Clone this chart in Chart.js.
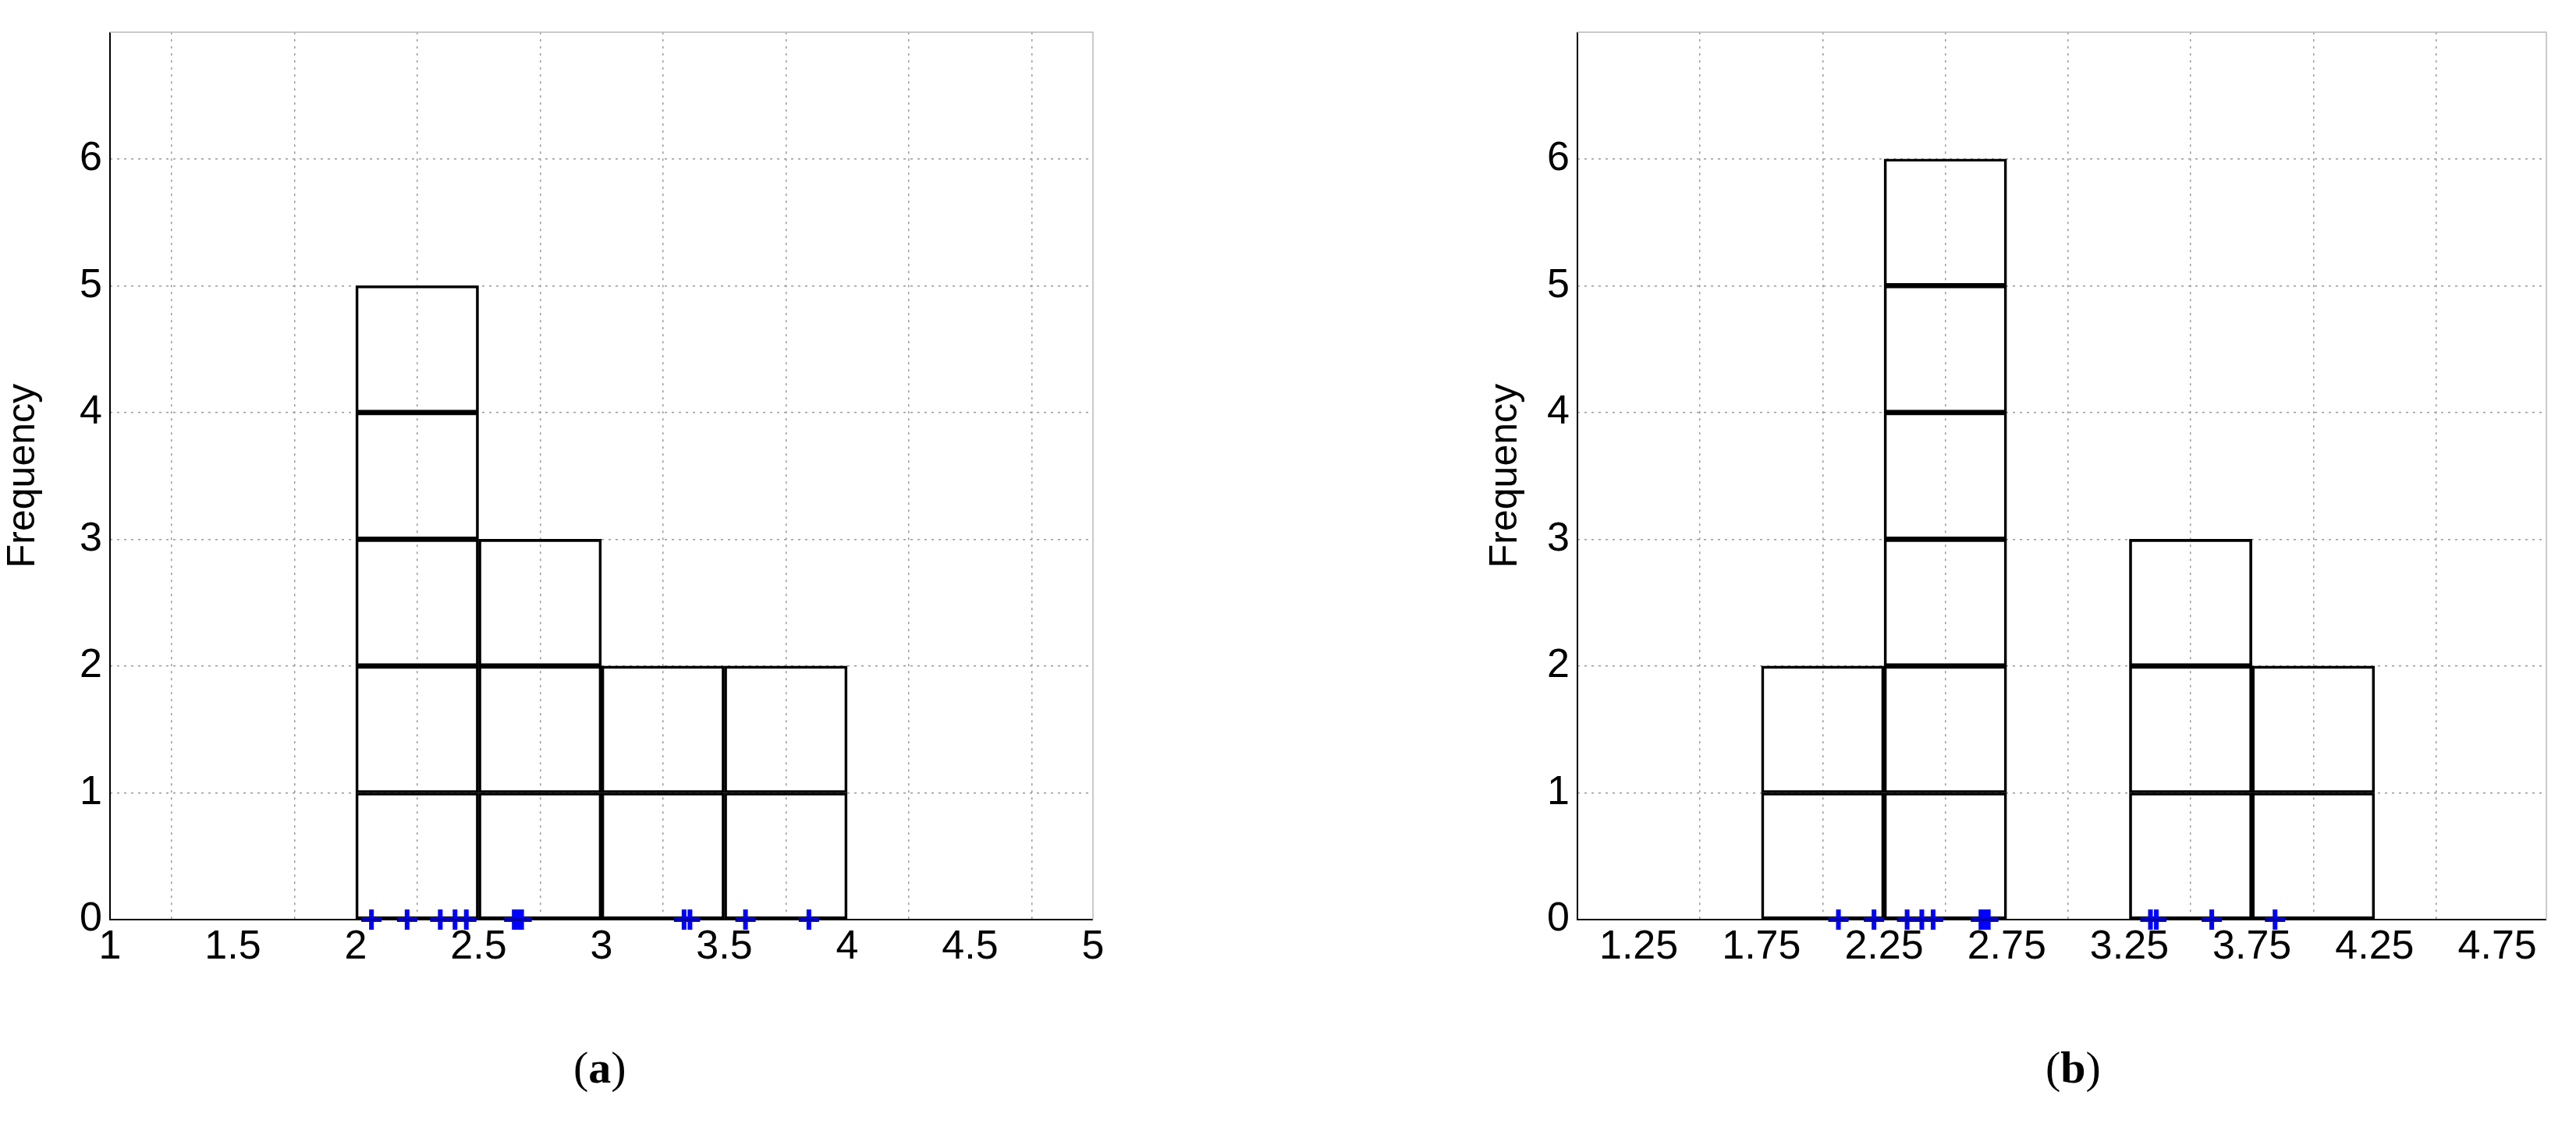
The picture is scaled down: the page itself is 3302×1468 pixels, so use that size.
<!DOCTYPE html>
<html><head><meta charset="utf-8">
<script src="https://cdn.jsdelivr.net/npm/chart.js@4"></script>
<style>
body{margin:0;width:3302px;height:1468px;background:#fff;position:relative;overflow:hidden;font-family:"Liberation Sans",Arial,sans-serif}
.w{position:absolute;top:0;height:1468px}
.lab{position:absolute;top:1335px;font-family:"Liberation Serif",serif;font-size:58px}
</style></head><body>
<div class="w" style="left:0;width:1420px"><canvas id="c1"></canvas></div>
<div class="w" style="left:1900px;width:1402px"><canvas id="c2"></canvas></div>
<div class="lab" style="left:735px">(<b>a</b>)</div>
<div class="lab" style="left:2622px">(<b>b</b>)</div>
<script>
const samples=[2.064,2.209,2.344,2.404,2.45,2.645,2.66,2.675,3.336,3.36,3.586,3.844];
const binCentersA=[2.25,2.75,3.25,3.75];
const countsA=[5,3,2,2];
const binCentersB=[2.0,2.5,3.5,4.0];
const countsB=[2,6,3,2];
const ticksA=[1,1.5,2,2.5,3,3.5,4,4.5,5];
const ticksB=[1.25,1.75,2.25,2.75,3.25,3.75,4.25,4.75];
const yTicks=[0,1,2,3,4,5,6];

const frame={id:'frame',afterDraw(c){const a=c.chartArea,x=c.ctx;x.save();x.strokeStyle='#000';x.lineWidth=2;
x.beginPath();x.moveTo(a.left,a.top);x.lineTo(a.left,a.bottom);x.lineTo(a.right,a.bottom);x.stroke();
x.strokeStyle='#bbb';x.lineWidth=1.5;x.beginPath();x.moveTo(a.left,a.top);x.lineTo(a.right,a.top);x.lineTo(a.right,a.bottom);x.stroke();x.restore();}};

function make(id,centers,counts,ticks,xmin,xmax,yw,padR){
  const maxc=Math.max(...counts);const ds=[];
  for(let k=1;k<=maxc;k++){ds.push({type:'bar',data:centers.map((c,i)=>({x:c,y:counts[i]>=k?1:null})),
    backgroundColor:'rgba(0,0,0,0)',borderColor:'#000',borderWidth:3,borderSkipped:false,
    barPercentage:1,categoryPercentage:1,stack:'s',order:2});}
  ds.push({type:'scatter',data:samples.map(v=>({x:v,y:0})),pointStyle:'cross',radius:13,borderWidth:6,
    borderColor:'#0000ff',backgroundColor:'#0000ff',clip:false,order:1});
  new Chart(document.getElementById(id),{data:{datasets:ds},plugins:[frame],
   options:{responsive:true,maintainAspectRatio:false,animation:false,
    layout:{padding:{top:19,right:padR,left:0,bottom:0}},
    plugins:{legend:{display:false},tooltip:{enabled:false}},
    scales:{
     x:{type:'linear',min:xmin,max:xmax,offset:false,
        afterBuildTicks(s){s.ticks=ticks.map(v=>({value:v}));},
        afterFit(s){s.height=289;},
        ticks:{color:'#000',font:{size:52},padding:4,maxRotation:0,autoSkip:false,callback:v=>String(v)},
        grid:{color:'#999',lineWidth:1.5,tickLength:0},border:{display:false,dash:[3,6]}},
     y:{type:'linear',min:0,max:7,stacked:true,
        afterBuildTicks(s){s.ticks=yTicks.map(v=>({value:v}));},
        afterFit(s){s.width=yw;},
        title:{display:true,text:'Frequency',color:'#000',font:{size:50},padding:{top:0,bottom:0}},
        ticks:{color:'#000',font:{size:52},padding:10},
        grid:{color:'#999',lineWidth:1.5,tickLength:0},border:{display:false,dash:[3,6]}}
    }}});
}
Chart.defaults.font.family='"Liberation Sans",Arial,sans-serif';
make('c1',binCentersA,countsA,ticksA,1,5,141,13);
make('c2',binCentersB,countsB,ticksB,1.0,4.95,122,38);
</script></body></html>
